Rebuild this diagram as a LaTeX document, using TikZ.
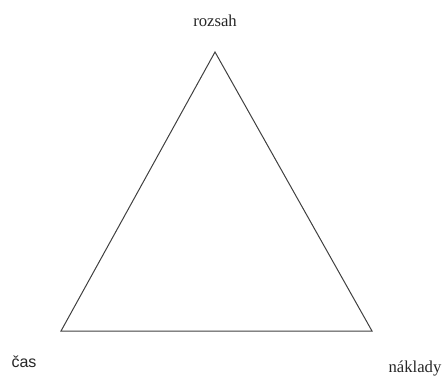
\documentclass[tikz,border=0pt]{standalone}
\usepackage{fontspec}
\setmainfont{Liberation Serif}
\newfontfamily\labsans{Liberation Sans}
\begin{document}
\begin{tikzpicture}[x=0.75pt,y=-0.75pt,
  edge/.style={draw=black!75,line width=0.75pt},
  lab/.style={font=\fontsize{12.5}{15}\selectfont,text=black!85,inner sep=0pt}]
\useasboundingbox (0,0) rectangle (445,376);
\coordinate (T) at (215,52);
\coordinate (L) at (61,331);
\coordinate (R) at (372,331);
\draw[edge] (T) -- (L) -- (R) -- cycle;
\node[lab] (rozsah) at (215,21) {rozsah};
\node[lab,font=\labsans\fontsize{12}{14}\selectfont] (cas) at (24,362) {čas};
\node[lab] (naklady) at (415,368) {náklady};
\end{tikzpicture}
\end{document}
